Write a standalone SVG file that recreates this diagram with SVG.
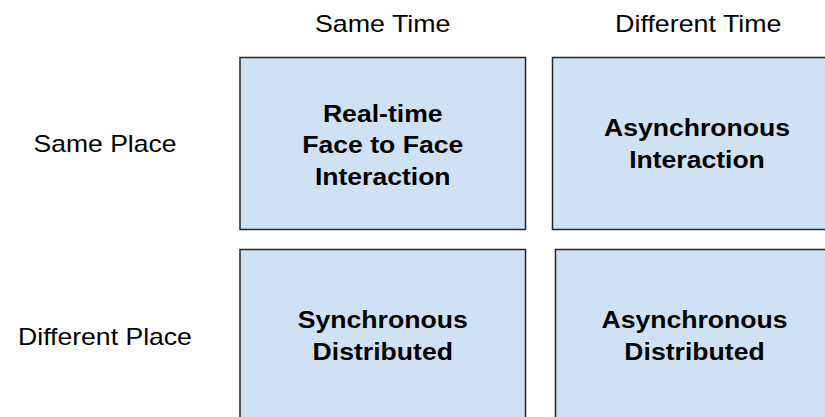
<svg xmlns="http://www.w3.org/2000/svg" width="825" height="417" viewBox="0 0 825 417">
  <style>
    .box { fill: #cfe2f3; stroke: #262626; stroke-width: 1.5; }
    .hdr { font-family: "Liberation Sans", Arial, sans-serif; font-size: 24px; fill: #000; text-anchor: middle; }
    .lbl { font-family: "Liberation Sans", Arial, sans-serif; font-size: 23.5px; font-weight: bold; fill: #000; text-anchor: middle; }
  </style>
  <rect width="825" height="417" fill="#ffffff"/>
  <g id="headers">
    <text class="hdr" x="382.75" y="31.7" textLength="135.5" lengthAdjust="spacingAndGlyphs">Same Time</text>
    <text class="hdr" x="698.3" y="31.7" textLength="166.4" lengthAdjust="spacingAndGlyphs">Different Time</text>
    <text class="hdr" x="105" y="152.3" textLength="142.9" lengthAdjust="spacingAndGlyphs">Same Place</text>
    <text class="hdr" x="105" y="344.6" textLength="173.8" lengthAdjust="spacingAndGlyphs">Different Place</text>
  </g>
  <g id="node-realtime">
    <rect class="box" x="240" y="57.5" width="285.5" height="172"/>
    <text class="lbl" x="382.75" y="121.5" textLength="119.7" lengthAdjust="spacingAndGlyphs">Real-time</text>
    <text class="lbl" x="382.75" y="153" textLength="161.1" lengthAdjust="spacingAndGlyphs">Face to Face</text>
    <text class="lbl" x="382.75" y="185" textLength="135.7" lengthAdjust="spacingAndGlyphs">Interaction</text>
  </g>
  <g id="node-async-interaction">
    <rect class="box" x="552.5" y="57.5" width="300" height="172"/>
    <text class="lbl" x="697" y="135.8" textLength="186" lengthAdjust="spacingAndGlyphs">Asynchronous</text>
    <text class="lbl" x="697" y="167.8" textLength="135.7" lengthAdjust="spacingAndGlyphs">Interaction</text>
  </g>
  <g id="node-sync-distributed">
    <rect class="box" x="240" y="249.5" width="285.5" height="180"/>
    <text class="lbl" x="382.75" y="328.3" textLength="170" lengthAdjust="spacingAndGlyphs">Synchronous</text>
    <text class="lbl" x="382.75" y="360" textLength="140.4" lengthAdjust="spacingAndGlyphs">Distributed</text>
  </g>
  <g id="node-async-distributed">
    <rect class="box" x="555.5" y="249.5" width="300" height="180"/>
    <text class="lbl" x="694.5" y="328.3" textLength="186" lengthAdjust="spacingAndGlyphs">Asynchronous</text>
    <text class="lbl" x="694.5" y="360" textLength="140.4" lengthAdjust="spacingAndGlyphs">Distributed</text>
  </g>
  <g id="connectors"></g>
</svg>
